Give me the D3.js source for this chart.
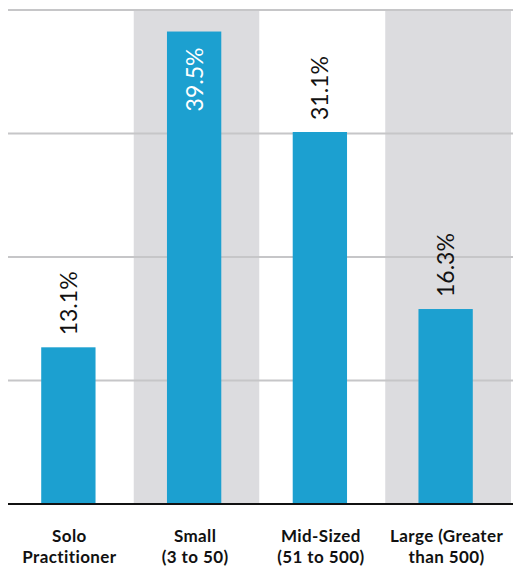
<!DOCTYPE html>
<html><head><meta charset="utf-8">
<script src="https://cdn.jsdelivr.net/npm/d3@7"></script>
<style>html,body{margin:0;padding:0;background:#fff}svg{display:block}</style>
</head><body>
<script>
const categories = ["Solo Practitioner", "Small (3 to 50)", "Mid-Sized (51 to 500)", "Large (Greater than 500)"];
const labelLines = [["Solo", "Practitioner"], ["Small", "(3 to 50)"], ["Mid-Sized", "(51 to 500)"], ["Large (Greater", "than 500)"]];
const values = [13.1, 39.5, 31.1, 16.3];
const valueLabels = ["13.1%", "39.5%", "31.1%", "16.3%"];
const yMax = 41.3;
const gridCount = 4;

(function () {
const W = 513, H = 567;
const mLeft = 8, mRight = 511, mTop = 10, base = 504;
const svg = d3.select("body").append("svg").attr("width", W).attr("height", H);

const x = d3.scaleBand().domain(categories).range([mLeft, mRight]).padding(0);
const y = d3.scaleLinear().domain([0, yMax]).range([base, mTop]);
const barW = x.bandwidth() * 0.432;
const barShift = -2.5;

// alternating background bands
svg.append("g").selectAll("rect").data(categories).join("rect")
  .attr("x", d => x(d)).attr("y", mTop).attr("width", x.bandwidth()).attr("height", base - mTop)
  .attr("fill", (d, i) => i % 2 ? "#dcdcdf" : "#ffffff");

// gridlines
const gridVals = d3.range(1, gridCount + 1).map(i => yMax * i / gridCount);
svg.append("g").selectAll("line").data(gridVals).join("line")
  .attr("x1", mLeft).attr("x2", W).attr("y1", d => y(d)).attr("y2", d => y(d))
  .attr("stroke", "#c6c6c8").attr("stroke-width", 2);

// bars
svg.append("g").selectAll("rect").data(values).join("rect")
  .attr("x", (d, i) => x(categories[i]) + (x.bandwidth() - barW) / 2 + barShift)
  .attr("y", d => y(d)).attr("width", barW).attr("height", d => base - y(d))
  .attr("fill", "#1ca0d0");

// baseline
svg.append("line").attr("x1", mLeft).attr("x2", W).attr("y1", base).attr("y2", base)
  .attr("stroke", "#111").attr("stroke-width", 2);

// value labels
const fs = 23;
svg.append("g").selectAll("text").data(values).join("text")
  .each(function(d, i) {
    const cx = x(categories[i]) + x.bandwidth() / 2 + barShift;
    const t = d3.select(this)
      .attr("font-family", "Lato, 'Open Sans', sans-serif")
      .attr("font-size", fs)
      .text(valueLabels[i]);
    const len = this.getComputedTextLength();
    const inside = y(d) - 12 - len < mTop + 5;
    const ty = inside ? y(d) + 16 : y(d) - 12;
    t.attr("text-anchor", inside ? "end" : "start")
     .attr("fill", inside ? "#ffffff" : "#111111")
     .attr("transform", `translate(${cx + 8.5},${ty}) rotate(-90)`);
  });

// category labels
const lg = svg.append("g");
labelLines.forEach((lines, i) => {
  const cx = x(categories[i]) + x.bandwidth() / 2 - 1.5;
  const t = lg.append("text")
    .attr("x", cx).attr("y", 542)
    .attr("text-anchor", "middle")
    .attr("font-family", "Lato, 'Open Sans', sans-serif")
    .attr("font-weight", "bold")
    .attr("font-size", 17)
    .attr("letter-spacing", 0.4)
    .attr("fill", "#111");
  lines.forEach((l, j) => t.append("tspan").attr("x", cx).attr("dy", j ? 21 : 0).text(l));
});
})();
</script>
</body></html>
